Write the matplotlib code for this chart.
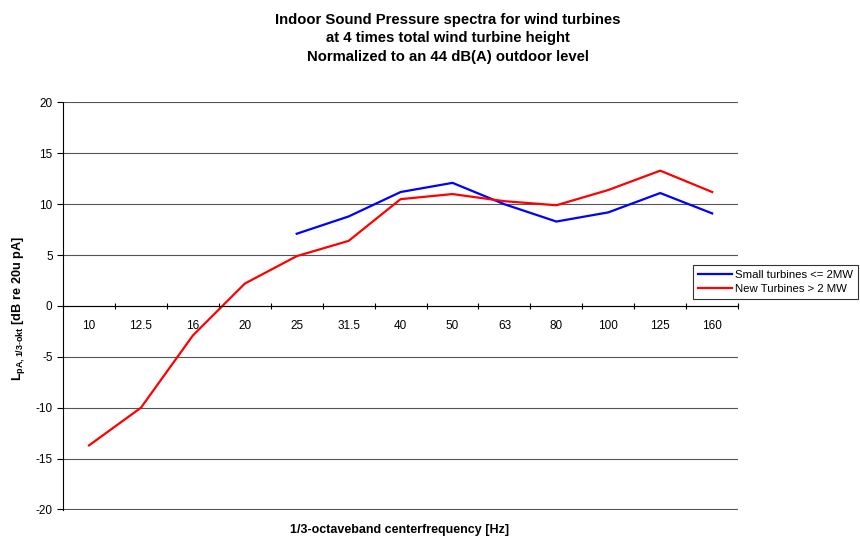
import numpy as np
import matplotlib
matplotlib.use('Agg')
import matplotlib.pyplot as plt

plt.rcParams['font.family'] = ['Liberation Sans', 'DejaVu Sans']
plt.rcParams['mathtext.fontset'] = 'custom'
plt.rcParams['mathtext.rm'] = 'Liberation Sans'
plt.rcParams['mathtext.bf'] = 'Liberation Sans:bold'
plt.rcParams['axes.unicode_minus'] = False

freqs = ['10', '12.5', '16', '20', '25', '31.5', '40', '50', '63', '80', '100', '125', '160']
small = [np.nan, np.nan, np.nan, np.nan, 7.1, 8.8, 11.2, 12.1, 10.0, 8.3, 9.2, 11.1, 9.1]
new = [-13.7, -10.0, -2.9, 2.2, 4.9, 6.4, 10.5, 11.0, 10.3, 9.9, 11.4, 13.3, 11.2]

fig = plt.figure(figsize=(8.6, 5.39), dpi=100)
ax = fig.add_axes([0.0733, 0.0538, 0.7850, 0.7570])

x = np.arange(len(freqs))
ax.plot(x, small, color='#0000FF', lw=1.6, label='Small turbines <= 2MW')
ax.plot(x, new, color='#FF0000', lw=1.6, label='New Turbines > 2 MW')

ax.set_xlim(-0.5, len(freqs) - 0.5)
ax.set_ylim(-20.05, 20.05)
ax.set_yticks(np.arange(-20, 21, 5))
ax.tick_params(axis='y', labelsize=8.5, length=4, direction='out', width=0.8)
ax.grid(axis='y', color='#555555', lw=0.8)
ax.set_axisbelow(True)

ax.set_xticks(x)
ax.set_xticklabels(freqs)
ax.set_xticks(np.arange(-0.5, len(freqs)), minor=True)
ax.tick_params(axis='x', which='major', length=0, labelsize=8.5, pad=10)
ax.tick_params(axis='x', which='minor', length=4, direction='inout', width=0.8)

for s in ['top', 'right']:
    ax.spines[s].set_visible(False)
ax.spines['bottom'].set_position(('data', 0))
ax.spines['bottom'].set_linewidth(0.8)
ax.spines['left'].set_linewidth(0.8)

fig.text(0.521, 0.929, 'Indoor Sound Pressure spectra for wind turbines\n'
         'at 4 times total wind turbine height\n'
         'Normalized to an 44 dB(A) outdoor level',
         ha='center', va='center', fontsize=10.7, fontweight='bold', linespacing=1.42)
fig.text(0.4645, 0.017, '1/3-octaveband centerfrequency [Hz]', ha='center', va='center',
         fontsize=9, fontweight='bold')
fig.text(0.021, 0.428, r'L$_{\mathbf{pA,1/3\text{-}okt}}$ [dB re 20u pA]', rotation=90,
         ha='center', va='center', fontsize=9.2, fontweight='bold')

leg = fig.legend(loc='upper left', bbox_to_anchor=(0.806, 0.508), fontsize=8.2,
                 frameon=True, fancybox=False, edgecolor='black', borderpad=0.4,
                 handlelength=3, labelspacing=0.4, handletextpad=0.3, borderaxespad=0)
leg.get_frame().set_linewidth(0.8)

fig.savefig('out.png', dpi=100)
